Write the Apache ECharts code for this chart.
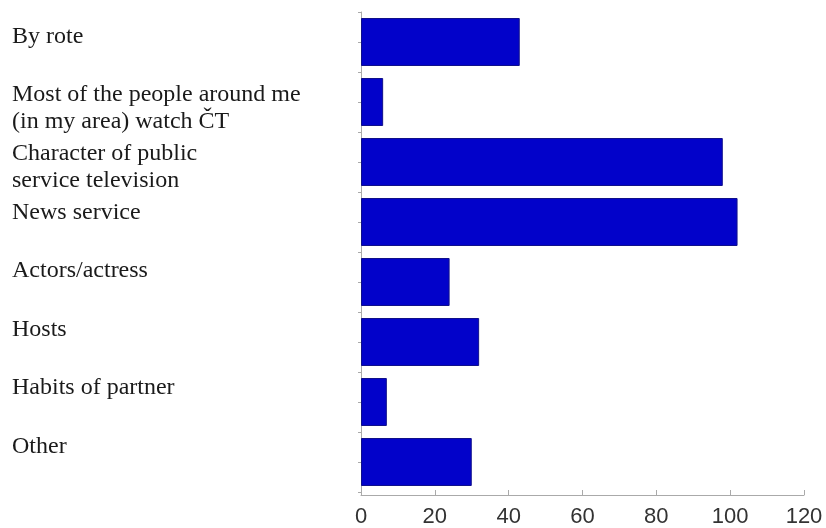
<!DOCTYPE html>
<html>
<head>
<meta charset="utf-8">
<script src="https://cdn.jsdelivr.net/npm/echarts@6/dist/echarts.min.js"></script>
<style>html,body{margin:0;padding:0;background:#fff;}#c{width:826px;height:528px;}</style>
</head>
<body>
<div id="c"></div>
<script>
const categories = [
  "By rote",
  "Most of the people around me\n(in my area) watch ČT",
  "Character of public\nservice television",
  "News service",
  "Actors/actress",
  "Hosts",
  "Habits of partner",
  "Other"
];
const values = [43, 6, 98, 102, 24, 32, 7, 30];
const xTicks = [0, 20, 40, 60, 80, 100, 120];

const chart = echarts.init(document.getElementById('c'), null, {renderer: 'canvas'});
const axisGrey = '#aaaaaa';
chart.setOption({
  animation: false,
  backgroundColor: '#ffffff',
  grid: [
    {left: 361, top: 12, width: 443, height: 480, containLabel: false},
    {left: 361, top: 23, width: 443, height: 410, containLabel: false}
  ],
  xAxis: [
    {
      gridIndex: 0, type: 'value', min: xTicks[0], max: xTicks[xTicks.length - 1], interval: 20,
      offset: 3,
      axisLine: {show: true, lineStyle: {color: axisGrey, width: 1}},
      axisTick: {show: true, inside: true, length: 5, lineStyle: {color: axisGrey}},
      splitLine: {show: false},
      axisLabel: {fontFamily: 'Liberation Sans, Arial, sans-serif', fontSize: 22, color: '#333', margin: 11}
    },
    {
      gridIndex: 1, type: 'value', show: false, min: 0, max: 120
    }
  ],
  yAxis: [
    {
      gridIndex: 0, type: 'category', data: categories, inverse: true, position: 'left',
      axisLine: {show: true, lineStyle: {color: axisGrey, width: 1}},
      axisTick: {show: true, inside: false, length: 3, interval: 0, lineStyle: {color: axisGrey}},
      axisLabel: {show: false},
      splitLine: {show: false}
    },
    {
      gridIndex: 0, type: 'category', data: categories, inverse: true, position: 'left',
      axisLine: {show: false},
      axisTick: {show: true, inside: false, length: 3, alignWithLabel: true, interval: 0, lineStyle: {color: axisGrey}},
      axisLabel: {show: false},
      splitLine: {show: false}
    },
    {
      gridIndex: 1, type: 'category', data: categories, inverse: true, position: 'left',
      boundaryGap: false,
      axisLine: {show: false},
      axisTick: {show: false},
      splitLine: {show: false},
      axisLabel: {
        show: true, interval: 0, align: 'left', verticalAlign: 'top', margin: 349,
        fontFamily: 'Liberation Serif, Times New Roman, serif', fontSize: 24, lineHeight: 27,
        color: '#1a1a1a'
      }
    }
  ],
  series: [
    {
      type: 'bar', xAxisIndex: 0, yAxisIndex: 0, data: values,
      barCategoryGap: '20%',
      itemStyle: {color: '#0202ca', borderColor: '#10108a', borderWidth: 1},
      silent: true
    }
  ]
});
</script>
</body>
</html>
